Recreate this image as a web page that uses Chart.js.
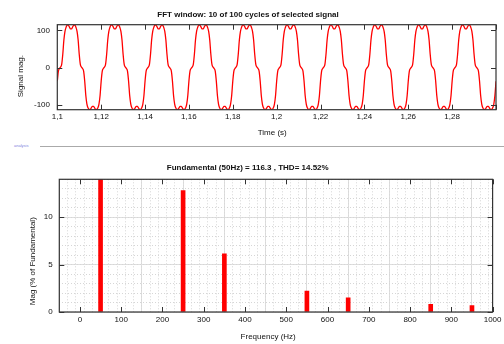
<!DOCTYPE html>
<html>
<head>
<meta charset="utf-8">
<script src="https://cdn.jsdelivr.net/npm/chart.js@4.4.1/dist/chart.umd.min.js"></script>
<style>
    body { margin: 0; background: #fff; width: 504px; height: 344px; position: relative; overflow: hidden; }
    #sigChart { position: absolute; left: 0; top: 0; }
    #fftChart { position: absolute; left: 0; top: 150px; }
    #tag { position: absolute; left: 14px; top: 143px; font: 4px "Liberation Sans", sans-serif; color: #8080e0; }
    #rule { position: absolute; left: 40px; top: 146px; width: 464px; border-top: 1px solid #aaa; }
</style>
</head>
<body>
<canvas id="sigChart" width="504" height="140"></canvas>
<div id="tag">analysis</div>
<div id="rule"></div>
<canvas id="fftChart" width="504" height="194"></canvas>
<script>
/*
    Two gnuplot-style panels: time signal (10 cycles) and its harmonic spectrum
*/

// time signal: sampled every 0.5 ms starting at 1.1 s (40 samples per 50 Hz cycle)
const timeStart = 1.1;
const timeStep = 0.0005;
const signalMag = [
    -36, -9, -2, 2, 9, 36, 74, 97, 108, 114, 114, 109, 104, 104, 109, 114, 114, 108, 97, 74, 36, 9, 2, -2, -9, -36, -74, -97, -107, -111, -111, -107, -103, -103, -107, -111, -111, -107, -97, -74,
    -36, -9, -2, 2, 9, 36, 74, 97, 108, 114, 114, 109, 104, 104, 109, 114, 114, 108, 97, 74, 36, 9, 2, -2, -9, -36, -74, -97, -107, -111, -111, -107, -103, -103, -107, -111, -111, -107, -97, -74,
    -36, -9, -2, 2, 9, 36, 74, 97, 108, 114, 114, 109, 104, 104, 109, 114, 114, 108, 97, 74, 36, 9, 2, -2, -9, -36, -74, -97, -107, -111, -111, -107, -103, -103, -107, -111, -111, -107, -97, -74,
    -36, -9, -2, 2, 9, 36, 74, 97, 108, 114, 114, 109, 104, 104, 109, 114, 114, 108, 97, 74, 36, 9, 2, -2, -9, -36, -74, -97, -107, -111, -111, -107, -103, -103, -107, -111, -111, -107, -97, -74,
    -36, -9, -2, 2, 9, 36, 74, 97, 108, 114, 114, 109, 104, 104, 109, 114, 114, 108, 97, 74, 36, 9, 2, -2, -9, -36, -74, -97, -107, -111, -111, -107, -103, -103, -107, -111, -111, -107, -97, -74,
    -36, -9, -2, 2, 9, 36, 74, 97, 108, 114, 114, 109, 104, 104, 109, 114, 114, 108, 97, 74, 36, 9, 2, -2, -9, -36, -74, -97, -107, -111, -111, -107, -103, -103, -107, -111, -111, -107, -97, -74,
    -36, -9, -2, 2, 9, 36, 74, 97, 108, 114, 114, 109, 104, 104, 109, 114, 114, 108, 97, 74, 36, 9, 2, -2, -9, -36, -74, -97, -107, -111, -111, -107, -103, -103, -107, -111, -111, -107, -97, -74,
    -36, -9, -2, 2, 9, 36, 74, 97, 108, 114, 114, 109, 104, 104, 109, 114, 114, 108, 97, 74, 36, 9, 2, -2, -9, -36, -74, -97, -107, -111, -111, -107, -103, -103, -107, -111, -111, -107, -97, -74,
    -36, -9, -2, 2, 9, 36, 74, 97, 108, 114, 114, 109, 104, 104, 109, 114, 114, 108, 97, 74, 36, 9, 2, -2, -9, -36, -74, -97, -107, -111, -111, -107, -103, -103, -107, -111, -111, -107, -97, -74,
    -36, -9, -2, 2, 9, 36, 74, 97, 108, 114, 114, 109, 104, 104, 109, 114, 114, 108, 97, 74, 36, 9, 2, -2, -9, -36, -74, -97, -107, -111, -111, -107, -103, -103, -107, -111, -111, -107, -97, -74,
    -36
];

// spectrum: harmonic frequency (Hz) and magnitude in % of fundamental
const harmonicFreq = [50, 250, 350, 550, 650, 850, 950];
const harmonicMag = [100, 12.8, 6.15, 2.2, 1.5, 0.82, 0.67];

Chart.defaults.font.family = '"Liberation Sans", Arial, sans-serif';
Chart.defaults.font.size = 8;
Chart.defaults.color = '#111';

// gnuplot centres its axis labels a little off the plot middle; pad with spaces to follow it
const pad = n => '\u00a0'.repeat(n);

// gnuplot look: closed border with inward tick marks on all four sides
const framePlugin = {
    id: 'frame',
    afterDraw(chart) {
        const {ctx, chartArea: a} = chart;
        const x = chart.scales.x, y = chart.scales.y;
        ctx.save();
        ctx.strokeStyle = '#333';
        ctx.lineWidth = 1;
        ctx.beginPath();
        x.ticks.forEach(t => {
            const px = Math.round(x.getPixelForValue(t.value)) + 0.5;
            ctx.moveTo(px, a.bottom); ctx.lineTo(px, a.bottom - 5);
            ctx.moveTo(px, a.top); ctx.lineTo(px, a.top + 5);
        });
        y.ticks.forEach(t => {
            const py = Math.round(y.getPixelForValue(t.value)) + 0.5;
            ctx.moveTo(a.left, py); ctx.lineTo(a.left + 5, py);
            ctx.moveTo(a.right, py); ctx.lineTo(a.right - 5, py);
        });
        ctx.stroke();
        ctx.lineWidth = 1.2;
        ctx.strokeRect(a.left, a.top, a.right - a.left, a.bottom - a.top);
        ctx.restore();
    }
};

const sigPoints = signalMag.map((v, i) => ({x: timeStart + i * timeStep, y: v}));

new Chart(document.getElementById('sigChart'), {
    type: 'line',
    data: {
        datasets: [{
            data: sigPoints,
            borderColor: '#ff0000',
            borderWidth: 1.3,
            pointRadius: 0,
            cubicInterpolationMode: 'monotone'
        }]
    },
    options: {
        responsive: false,
        animation: false,
        layout: { padding: { right: 8 } },
        scales: {
            x: {
                type: 'linear',
                min: 1.1,
                max: 1.3,
                afterFit: s => { s.height = 30.3; },
                grid: { display: false, drawTicks: false },
                border: { display: false },
                ticks: {
                    stepSize: 0.02,
                    includeBounds: false,
                    autoSkip: false,
                    maxRotation: 0,
                    padding: 2.5,
                    callback: v => v > 1.29 ? '' : String(Math.round(v * 100) / 100).replace('.', ',')
                },
                title: { display: true, text: 'Time (s)' + pad(4), padding: { top: 0, bottom: 2.2 } }
            },
            y: {
                min: -112,
                max: 115,
                afterFit: s => { s.width = 57.3; },
                grid: { display: false, drawTicks: false },
                border: { display: false },
                ticks: { stepSize: 100, includeBounds: false, padding: 7.3 },
                title: { display: true, text: 'Signal mag.' + pad(8), padding: { top: 15.7, bottom: 0 } }
            }
        },
        plugins: {
            legend: { display: false },
            tooltip: { enabled: false },
            title: {
                display: true,
                text: 'FFT window: 10 of 100 cycles of selected signal',
                font: { size: 8, weight: 'bold' },
                padding: { top: 10, bottom: 5.1 }
            }
        }
    },
    plugins: [framePlugin]
});

const fftPoints = harmonicFreq.map((f, i) => ({x: f, y: harmonicMag[i]}));

new Chart(document.getElementById('fftChart'), {
    type: 'bar',
    data: {
        datasets: [{
            data: fftPoints,
            backgroundColor: '#ff0000',
            barThickness: 4
        }]
    },
    options: {
        responsive: false,
        animation: false,
        layout: { padding: { right: 8.5 } },
        scales: {
            x: {
                type: 'linear',
                min: -50,
                max: 1000,
                offset: false,
                afterFit: s => { s.height = 32; },
                grid: { color: '#dedede', drawTicks: false },
                border: { display: false },
                ticks: {
                    stepSize: 100,
                    includeBounds: false,
                    autoSkip: false,
                    maxRotation: 0,
                    padding: 2.5,
                    callback: v => String(v)
                },
                title: { display: true, text: 'Frequency (Hz)' + pad(7), padding: { top: 0, bottom: 2.5 } }
            },
            xMinor: {
                type: 'linear',
                min: -50,
                max: 1000,
                offset: false,
                afterFit: s => { s.height = 0; },
                grid: { color: '#d6d6d6', drawTicks: false },
                border: { display: false, dash: [1, 2] },
                ticks: { display: false, stepSize: 20, includeBounds: false }
            },
            y: {
                min: 0,
                max: 14,
                afterFit: s => { s.width = 59.3; },
                grid: { color: '#dedede', drawTicks: false },
                border: { display: false },
                ticks: { stepSize: 5, includeBounds: false, padding: 6.6 },
                title: { display: true, text: 'Mag (% of Fundamental)' + pad(14), padding: { top: 27.5, bottom: 0 } }
            },
            yMinor: {
                min: 0,
                max: 14,
                afterFit: s => { s.width = 0; },
                grid: { color: '#d6d6d6', drawTicks: false },
                border: { display: false, dash: [1, 2] },
                ticks: { display: false, stepSize: 1, includeBounds: false }
            }
        },
        plugins: {
            legend: { display: false },
            tooltip: { enabled: false },
            title: {
                display: true,
                text: 'Fundamental (50Hz) = 116.3 , THD= 14.52%',
                font: { size: 8, weight: 'bold' },
                padding: { top: 12.5, bottom: 7.2 }
            }
        }
    },
    plugins: [framePlugin]
});
</script>
</body>
</html>
